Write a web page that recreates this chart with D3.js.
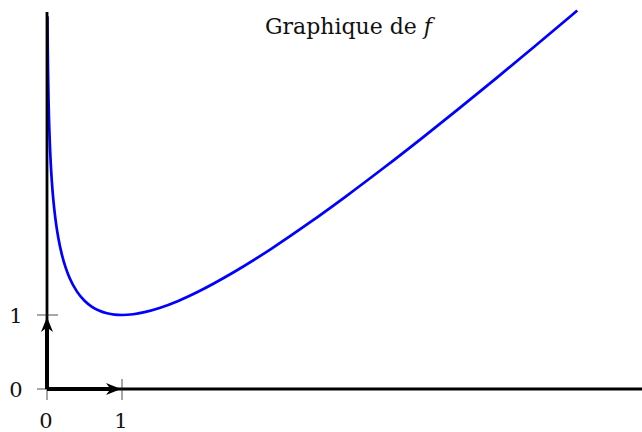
<!DOCTYPE html>
<html>
<head>
    <title>Graphique de f</title>
    <meta charset="utf-8">
    <script src="https://cdn.jsdelivr.net/npm/d3@7"></script>
    <style>
        body {
            margin: 0;
            background: #fff;
        }

        svg {
            display: block;
        }

        text {
            font-family: "DejaVu Serif", serif;
            fill: #111;
        }

        .curve {
            fill: none;
            stroke: #0000ff;
            stroke-width: 2.7;
        }

        .axis-line {
            stroke: #000;
            stroke-width: 2.8;
        }

        .vector {
            stroke: #000;
            stroke-width: 4;
        }

        .tick {
            stroke: #222;
            stroke-width: 0.8;
        }
    </style>
</head>
<body>
<svg width="642" height="432"></svg>
<script type="text/javascript">

// points
var curveX = [0.0065, 0.008, 0.01, 0.013, 0.016, 0.02, 0.025, 0.03, 0.04, 0.05, 0.065, 0.08, 0.1, 0.125,
        0.15, 0.2, 0.25, 0.3, 0.4, 0.5, 0.6, 0.7, 0.8, 0.9, 1, 1.15, 1.3, 1.5, 1.75, 2, 2.5,
        3, 3.5, 4, 4.5, 5, 5.5, 6, 6.5, 7, 7.07],
    curveY = [5.036, 4.836, 4.615, 4.356, 4.151, 3.932, 3.714, 3.537, 3.259, 3.046, 2.798, 2.606, 2.403, 2.204,
        2.047, 1.809, 1.636, 1.504, 1.316, 1.193, 1.111, 1.057, 1.023, 1.005, 1.000, 1.010, 1.038, 1.095, 1.190, 1.307, 1.584,
        1.901, 2.247, 2.614, 2.996, 3.391, 3.795, 4.208, 4.628, 5.054, 5.114],
    xTicks = [0, 1],
    yTicks = [0, 1],
    xTickLabels = ['0', '1'],
    yTickLabels = ['0', '1'],
    titleText = 'Graphique de ',
    titleVar = 'f';

var svg = d3.select('svg'),
    x = d3.scaleLinear().domain([0, 1]).range([47, 122]),
    y = d3.scaleLinear().domain([0, 1]).range([389, 315]);

var points = curveX.map(function (d, i) {
    return [d, curveY[i]];
});

// clip so the curve stays inside the axes box
svg.append('clipPath')
    .attr('id', 'plotArea')
    .append('rect')
    .attr('x', x(0))
    .attr('y', 0)
    .attr('width', 642)
    .attr('height', y(0));

var line = d3.line()
    .x(function (d) { return x(d[0]); })
    .y(function (d) { return y(d[1]); })
    .curve(d3.curveMonotoneX);

svg.append('path')
    .datum(points)
    .attr('class', 'curve')
    .attr('clip-path', 'url(#plotArea)')
    .attr('d', line);

// axes
svg.append('line')
    .attr('class', 'axis-line')
    .attr('x1', x(0)).attr('y1', y(0))
    .attr('x2', 642).attr('y2', y(0));

svg.append('line')
    .attr('class', 'axis-line')
    .attr('x1', x(0)).attr('y1', y(0))
    .attr('x2', x(0)).attr('y2', 12);

// tick marks
svg.selectAll('.xtick')
    .data(xTicks)
    .enter()
    .append('line')
    .attr('class', 'tick')
    .attr('x1', function (d) { return x(d); })
    .attr('x2', function (d) { return x(d); })
    .attr('y1', function (d) { return d === 0 ? y(0) : y(0) - 10; })
    .attr('y2', y(0) + 11);

svg.selectAll('.ytick')
    .data(yTicks)
    .enter()
    .append('line')
    .attr('class', 'tick')
    .attr('y1', function (d) { return y(d); })
    .attr('y2', function (d) { return y(d); })
    .attr('x1', x(0) - 10)
    .attr('x2', function (d) { return d === 0 ? x(0) : x(0) + 11; });

// unit vectors with arrow heads
function arrowHead(tx, ty, angle) {
    var len = 15, half = 6, back = 4.5;
    var p = [
        [0, 0],
        [-len, -half],
        [-len + back, 0],
        [-len, half]
    ];
    var c = Math.cos(angle), s = Math.sin(angle);
    var pts = p.map(function (q) {
        return [tx + q[0] * c - q[1] * s, ty + q[0] * s + q[1] * c];
    });
    svg.append('path')
        .attr('d', 'M' + pts.join('L') + 'Z')
        .attr('fill', '#000');
}

svg.append('line')
    .attr('class', 'vector')
    .attr('x1', x(0)).attr('y1', y(0))
    .attr('x2', x(1) - 9).attr('y2', y(0));
arrowHead(x(1) - 1, y(0), 0);

svg.append('line')
    .attr('class', 'vector')
    .attr('x1', x(0)).attr('y1', y(0))
    .attr('x2', x(0)).attr('y2', y(1) + 10);
arrowHead(x(0), y(1) + 2, -Math.PI / 2);

// tick labels
svg.selectAll('.xlabel')
    .data(xTicks)
    .enter()
    .append('text')
    .attr('x', function (d) { return x(d) - 1; })
    .attr('y', 428)
    .attr('text-anchor', 'middle')
    .style('font-size', '21px')
    .text(function (d, i) { return xTickLabels[i]; });

svg.selectAll('.ylabel')
    .data(yTicks)
    .enter()
    .append('text')
    .attr('x', 16)
    .attr('y', function (d) { return y(d) + 8; })
    .attr('text-anchor', 'middle')
    .style('font-size', '21px')
    .text(function (d, i) { return yTickLabels[i]; });

// title
var title = svg.append('text')
    .attr('x', 265)
    .attr('y', 34)
    .style('font-size', '22px');
title.append('tspan').text(titleText);
title.append('tspan').style('font-style', 'italic').text(titleVar);

</script>
</body>
</html>
